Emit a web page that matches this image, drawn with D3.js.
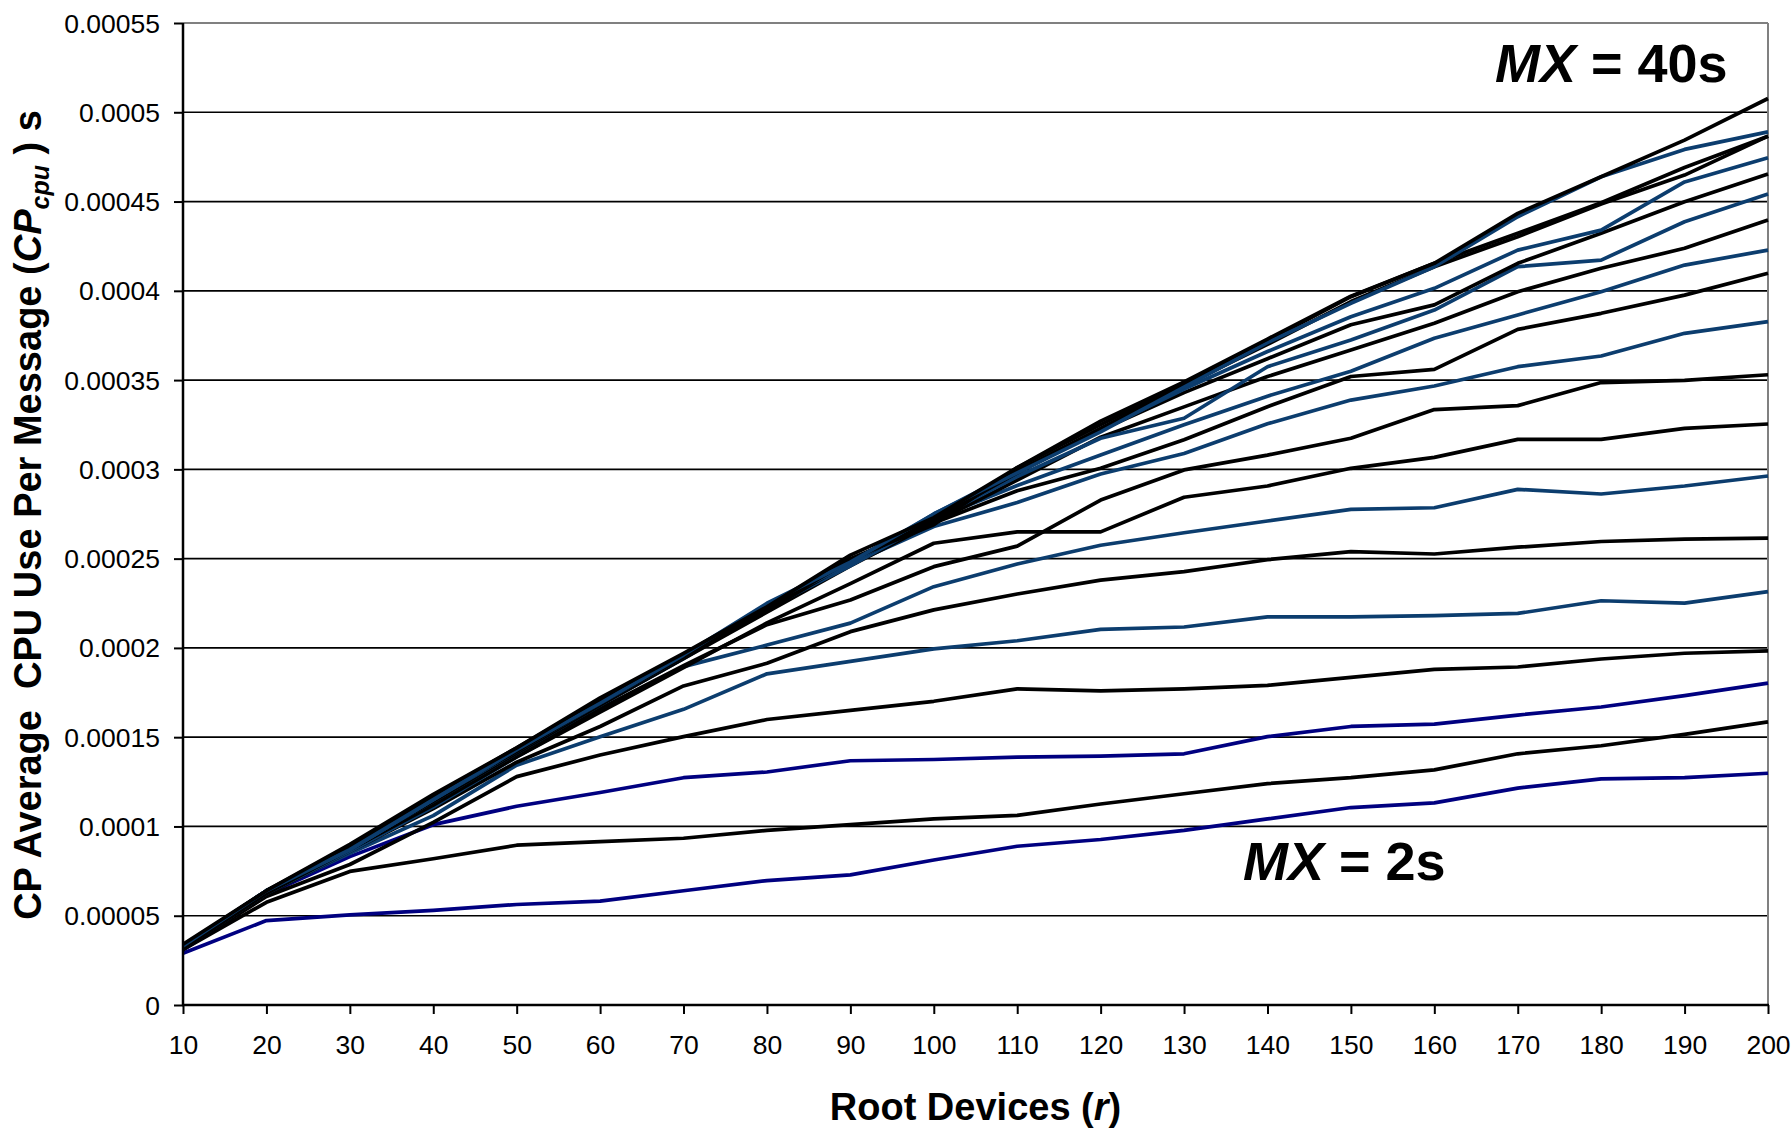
<!DOCTYPE html>
<html>
<head>
<meta charset="utf-8">
<script src="https://cdn.jsdelivr.net/npm/d3@7"></script>
<style>
  html, body { margin: 0; padding: 0; background: #fff; }
  svg { display: block; font-family: "Liberation Sans", Arial, sans-serif; }
  text { white-space: pre; }
</style>
</head>
<body>
<div id="chart"></div>
<script>
/* CP average CPU use per message vs. root devices, one line per MX (2s..40s). */
(() => {
  'use strict';

  const rootDevices = [10, 20, 30, 40, 50, 60, 70, 80, 90, 100, 110, 120, 130, 140, 150, 160, 170, 180, 190, 200];
  const yTicks = [0, 0.00005, 0.0001, 0.00015, 0.0002, 0.00025, 0.0003, 0.00035, 0.0004, 0.00045, 0.0005, 0.00055];
  const mxLabels = ['2s', '4s', '6s', '8s', '10s', '12s', '14s', '16s', '18s', '20s',
    '22s', '24s', '26s', '28s', '30s', '32s', '34s', '36s', '38s', '40s'];

  // colour group per series: n = navy, b = dark blue, k = black
  const seriesColour = ['n', 'k', 'n', 'k', 'b', 'k', 'b', 'k', 'k', 'b',
    'k', 'b', 'k', 'b', 'k', 'b', 'k', 'k', 'b', 'k'];

  const mx2 = [0.000029, 0.0000473, 0.0000505, 0.000053, 0.0000563, 0.0000582, 0.000064, 0.0000697, 0.0000729, 0.0000812,
    0.0000889, 0.0000927, 0.0000978, 0.0001042, 0.0001106, 0.0001132, 0.0001215, 0.0001266, 0.0001273, 0.0001298];
  const mx4 = [0.000031, 0.0000575, 0.0000748, 0.0000819, 0.0000895, 0.0000915, 0.0000934, 0.0000978, 0.000101, 0.0001042,
    0.0001062, 0.0001126, 0.0001183, 0.000124, 0.0001273, 0.0001317, 0.0001407, 0.0001452, 0.0001516, 0.0001586];
  const mx6 = [0.000031, 0.000062, 0.0000831, 0.000101, 0.0001113, 0.000119, 0.0001273, 0.0001305, 0.0001368, 0.0001375,
    0.0001388, 0.0001394, 0.0001407, 0.0001503, 0.000156, 0.0001573, 0.0001624, 0.0001669, 0.0001733, 0.0001803];
  const mx8 = [0.000031, 0.0000608, 0.0000787, 0.0001023, 0.0001279, 0.00014, 0.0001503, 0.0001599, 0.000165, 0.0001701,
    0.0001771, 0.0001759, 0.0001771, 0.000179, 0.0001835, 0.000188, 0.0001893, 0.0001938, 0.000197, 0.0001983];
  const mx10 = [0.000032, 0.000063, 0.000085, 0.0001061, 0.0001343, 0.0001503, 0.0001656, 0.0001855, 0.0001925, 0.0001995,
    0.000204, 0.0002104, 0.0002117, 0.0002174, 0.0002174, 0.0002181, 0.0002193, 0.0002264, 0.0002251, 0.0002315];
  const mx12 = [0.000032, 0.000062, 0.000086, 0.00011, 0.000136, 0.000156, 0.0001787, 0.0001914, 0.0002091, 0.0002213,
    0.0002302, 0.000238, 0.0002427, 0.0002494, 0.0002539, 0.0002526, 0.0002564, 0.0002596, 0.0002609, 0.0002615];
  const mx14 = [0.000032, 0.0000625, 0.000086, 0.000111, 0.000139, 0.000165, 0.0001895, 0.0002016, 0.0002139, 0.0002343,
    0.000247, 0.0002575, 0.0002645, 0.0002711, 0.0002776, 0.0002785, 0.0002888, 0.0002862, 0.0002907, 0.0002963];
  const mx16 = [0.000032, 0.0000625, 0.000087, 0.000112, 0.000139, 0.000164, 0.000189, 0.000214, 0.000236, 0.0002586,
    0.000265, 0.000265, 0.0002844, 0.0002907, 0.0003006, 0.0003067, 0.0003168, 0.0003168, 0.000323, 0.0003254];
  const mx18 = [0.000032, 0.000063, 0.0000875, 0.000113, 0.00014, 0.000166, 0.00019, 0.000213, 0.0002268, 0.0002455,
    0.000257, 0.0002828, 0.0002997, 0.000308, 0.0003174, 0.0003335, 0.0003357, 0.0003486, 0.0003498, 0.000353];
  const mx20 = [0.0000325, 0.0000635, 0.000088, 0.000114, 0.000141, 0.000168, 0.000194, 0.000222, 0.000247, 0.000268,
    0.0002814, 0.0002974, 0.0003089, 0.0003255, 0.0003388, 0.0003467, 0.0003575, 0.0003635, 0.0003762, 0.0003827];
  const mx22 = [0.000032, 0.000063, 0.000088, 0.000115, 0.000142, 0.000169, 0.000195, 0.000221, 0.000249, 0.00027,
    0.000288, 0.0003006, 0.0003166, 0.0003351, 0.000352, 0.000356, 0.0003784, 0.0003874, 0.0003976, 0.0004098];
  const mx24 = [0.000032, 0.0000635, 0.000088, 0.000115, 0.000142, 0.000169, 0.000196, 0.000223, 0.000249, 0.000272,
    0.000291, 0.000308, 0.000325, 0.000341, 0.000355, 0.0003734, 0.0003865, 0.0003995, 0.0004144, 0.0004228];
  const mx26 = [0.000032, 0.000063, 0.000088, 0.000114, 0.000141, 0.000168, 0.000194, 0.00022, 0.000246, 0.00027,
    0.000294, 0.000318, 0.000335, 0.000352, 0.0003668, 0.0003818, 0.0003995, 0.0004126, 0.0004238, 0.0004396];
  const mx28 = [0.0000325, 0.000064, 0.000087, 0.000115, 0.000142, 0.000169, 0.000195, 0.000222, 0.000246, 0.000272,
    0.000296, 0.0003174, 0.0003286, 0.0003575, 0.0003724, 0.0003892, 0.0004135, 0.0004172, 0.0004387, 0.0004542];
  const mx30 = [0.000032, 0.000063, 0.000088, 0.000116, 0.000142, 0.000169, 0.000195, 0.000221, 0.000248, 0.000272,
    0.000298, 0.000322, 0.000343, 0.000362, 0.000381, 0.0003921, 0.0004154, 0.0004322, 0.0004499, 0.0004654];
  const mx32 = [0.000033, 0.000064, 0.000087, 0.000115, 0.000143, 0.00017, 0.000196, 0.000224, 0.000247, 0.000275,
    0.000299, 0.000322, 0.000345, 0.000366, 0.0003855, 0.0004014, 0.0004228, 0.000434, 0.000461, 0.0004745];
  const mx34 = [0.000032, 0.000063, 0.000088, 0.000116, 0.000143, 0.00017, 0.000195, 0.000222, 0.000249, 0.000271,
    0.000299, 0.000323, 0.000347, 0.00037, 0.000394, 0.0004135, 0.0004303, 0.0004486, 0.0004648, 0.0004866];
  const mx36 = [0.000033, 0.000064, 0.000089, 0.000117, 0.000144, 0.000171, 0.000196, 0.000221, 0.00025, 0.000269,
    0.000301, 0.000325, 0.000348, 0.000372, 0.0003967, 0.0004154, 0.0004322, 0.0004493, 0.0004691, 0.0004866];
  const mx38 = [0.000033, 0.000064, 0.000087, 0.000115, 0.000143, 0.000169, 0.000196, 0.000225, 0.000248, 0.000275,
    0.000298, 0.000321, 0.000346, 0.000371, 0.000393, 0.0004135, 0.0004415, 0.0004639, 0.0004792, 0.000489];
  const mx40 = [0.000034, 0.000064, 0.00009, 0.000118, 0.000144, 0.000172, 0.000197, 0.000223, 0.000252, 0.000273,
    0.000301, 0.000327, 0.000349, 0.000373, 0.000397, 0.0004154, 0.0004434, 0.0004639, 0.0004844, 0.0005077];

  const seriesValues = [mx2, mx4, mx6, mx8, mx10, mx12, mx14, mx16, mx18, mx20,
    mx22, mx24, mx26, mx28, mx30, mx32, mx34, mx36, mx38, mx40];

  const colours = { n: '#000080', b: '#0c3d6e', k: '#000000' };

  const width = 1791;
  const height = 1129;
  const plot = { left: 183, right: 1768, top: 23, bottom: 1005 };

  const svg = d3.select('#chart').append('svg')
    .attr('width', width)
    .attr('height', height)
    .attr('viewBox', `0 0 ${width} ${height}`);

  svg.append('rect').attr('width', width).attr('height', height).attr('fill', '#fff');

  const x = d3.scaleLinear().domain([10, 200]).range([plot.left, plot.right]);
  const y = d3.scaleLinear().domain([0, 0.00055]).range([plot.bottom, plot.top]);

  // horizontal gridlines (the top one is the grey plot border)
  svg.append('g')
    .selectAll('line')
    .data(yTicks.filter(v => v > 0))
    .join('line')
    .attr('x1', plot.left)
    .attr('x2', plot.right)
    .attr('y1', d => y(d))
    .attr('y2', d => y(d))
    .attr('stroke', d => d === 0.00055 ? '#808080' : '#000')
    .attr('stroke-width', d => d === 0.00055 ? 2 : 1.7);

  // right plot border
  svg.append('line')
    .attr('x1', plot.right).attr('x2', plot.right)
    .attr('y1', plot.top).attr('y2', plot.bottom)
    .attr('stroke', '#808080').attr('stroke-width', 2);

  // series lines
  const line = d3.line()
    .x((d, i) => x(rootDevices[i]))
    .y(d => y(d));

  svg.append('g')
    .attr('fill', 'none')
    .selectAll('path')
    .data(seriesValues.map((vals, i) => ({ mx: mxLabels[i], vals, c: seriesColour[i] })))
    .join('path')
    .attr('d', d => line(d.vals))
    .attr('stroke', d => colours[d.c])
    .attr('stroke-width', 3.7)
    .attr('stroke-linejoin', 'round');

  // y axis
  const yAxis = svg.append('g')
    .attr('transform', `translate(${plot.left},0)`)
    .call(d3.axisLeft(y)
      .tickValues(yTicks)
      .tickSize(9)
      .tickPadding(14)
      .tickFormat(v => String(+v.toFixed(5))));
  yAxis.select('.domain').remove();
  yAxis.selectAll('.tick line').attr('stroke', '#000').attr('stroke-width', 2);
  yAxis.selectAll('.tick text')
    .attr('fill', '#000')
    .attr('font-size', 26.5)
    .attr('font-family', '"Liberation Sans", Arial, sans-serif')
    .attr('dy', '0.34em');
  svg.append('line')
    .attr('x1', plot.left).attr('x2', plot.left)
    .attr('y1', plot.top).attr('y2', plot.bottom + 1)
    .attr('stroke', '#000').attr('stroke-width', 2.5);

  // x axis
  const xAxis = svg.append('g')
    .attr('transform', `translate(0,${plot.bottom})`)
    .call(d3.axisBottom(x)
      .tickValues(rootDevices)
      .tickSize(9)
      .tickPadding(21)
      .tickFormat(d3.format('d')));
  xAxis.select('.domain').remove();
  xAxis.selectAll('.tick line').attr('stroke', '#000').attr('stroke-width', 2);
  xAxis.selectAll('.tick text')
    .attr('fill', '#000')
    .attr('font-size', 26.5)
    .attr('font-family', '"Liberation Sans", Arial, sans-serif');
  svg.append('line')
    .attr('x1', plot.left - 1).attr('x2', plot.right + 1)
    .attr('y1', plot.bottom).attr('y2', plot.bottom)
    .attr('stroke', '#000').attr('stroke-width', 2.5);

  // axis titles
  const xTitle = svg.append('text')
    .attr('x', (plot.left + plot.right) / 2)
    .attr('y', 1120)
    .attr('text-anchor', 'middle')
    .attr('font-size', 38)
    .attr('font-weight', 'bold');
  xTitle.append('tspan').text('Root Devices (');
  xTitle.append('tspan').attr('font-style', 'italic').text('r');
  xTitle.append('tspan').text(')');

  const yTitle = svg.append('text')
    .attr('transform', 'translate(41,515) rotate(-90)')
    .attr('text-anchor', 'middle')
    .attr('font-size', 38)
    .attr('font-weight', 'bold');
  yTitle.append('tspan').text('CP Average  CPU Use Per Message (');
  yTitle.append('tspan').attr('font-style', 'italic').text('CP');
  yTitle.append('tspan').attr('font-style', 'italic').attr('font-size', 25).attr('dy', 8).text('cpu');
  yTitle.append('tspan').attr('dy', -8).text(' ) s');

  // MX annotations
  const notes = [
    { text: '40s', x: 1495, y: 82 },
    { text: '2s', x: 1243, y: 880 },
  ];
  notes.forEach(n => {
    const t = svg.append('text')
      .attr('x', n.x)
      .attr('y', n.y)
      .attr('font-size', 54)
      .attr('font-weight', 'bold');
    t.append('tspan').attr('font-style', 'italic').text('MX');
    t.append('tspan').text(' = ' + n.text);
  });
})();
</script>
</body>
</html>
